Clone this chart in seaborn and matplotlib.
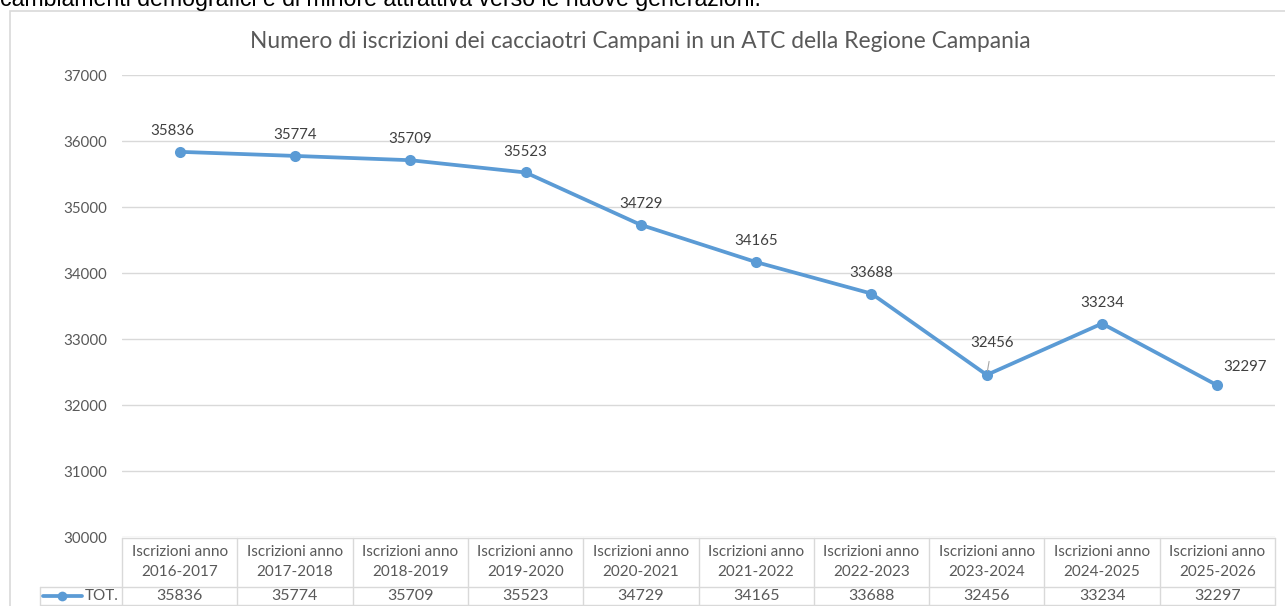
import numpy as np
import pandas as pd
import matplotlib
matplotlib.use("Agg")
import matplotlib.pyplot as plt
import seaborn as sns

# Data
anni = ["2016-2017", "2017-2018", "2018-2019", "2019-2020", "2020-2021",
        "2021-2022", "2022-2023", "2023-2024", "2024-2025", "2025-2026"]
iscritti = [35836, 35774, 35709, 35523, 34729, 34165, 33688, 32456, 33234, 32297]
y_ticks = [30000, 31000, 32000, 33000, 34000, 35000, 36000, 37000]

titolo = "Numero di iscrizioni dei cacciaotri Campani in un ATC della Regione Campania"
testo_sopra = "cambiamenti demografici e di minore attrattiva verso le nuove generazioni."

df = pd.DataFrame({"anno": anni, "tot": iscritti})

sns.set_theme(style="white")
plt.rcParams["font.family"] = ["Lato", "DejaVu Sans"]

BLUE = "#5B9BD5"
GRID = "#D9D9D9"
TXT = "#595959"
LBL = "#404040"

W, H = 1285, 606


def rect(l, t, r, b):
    return [l / W, 1 - b / H, (r - l) / W, (b - t) / H]


fig = plt.figure(figsize=(W / 100, H / 100), dpi=100)

# text of the page above the chart (cut off at the top)
fig.text(0.0, 1 - 6 / H, testo_sopra, family="Liberation Sans", fontsize=16.7,
         color="black", ha="left", va="baseline")

# chart border
fig.patches.append(plt.Rectangle((10 / W, -0.1), 1.2, 1 - 11 / H + 0.1,
                                 transform=fig.transFigure, fill=False,
                                 edgecolor=GRID, linewidth=1.2))

ax = fig.add_axes(rect(122, 75, 1275, 537))
sns.lineplot(data=df, x="anno", y="tot", marker="o", color=BLUE, linewidth=2.7,
             markersize=8, markeredgewidth=0, ax=ax, sort=False)
ax.set_xlim(-0.5, len(anni) - 0.5)
ax.set_ylim(30000, 37000)
ax.set_yticks(y_ticks)
ax.set_yticklabels([str(v) for v in y_ticks], color=TXT, fontsize=10.8)
ax.tick_params(axis="y", length=0, pad=10.5)
ax.set_xticks([])
ax.set_xlabel("")
ax.set_ylabel("")
ax.grid(axis="y", color=GRID, linewidth=1)
for s in ax.spines.values():
    s.set_visible(False)
ax.patch.set_alpha(0)

fig.text(640 / W, 1 - 42 / H, titolo, ha="center", va="center",
         fontsize=16.4, color=TXT)

# data labels (offsets in points)
offsets = [(-5, 15)] + [(0, 15)] * 6 + [(4, 23), (0, 15), (20, 13)]
for i, (v, off) in enumerate(zip(iscritti, offsets)):
    if i == 7:
        ax.annotate(str(v), xy=(i, v), xytext=off, textcoords="offset points",
                    ha="center", va="center", fontsize=10.8, color=LBL,
                    arrowprops=dict(arrowstyle="-", color="#A6A6A6", lw=0.8,
                                    shrinkA=6, shrinkB=3))
    else:
        ax.annotate(str(v), xy=(i, v), xytext=off, textcoords="offset points",
                    ha="center", va="center", fontsize=10.8, color=LBL)

# data table below the chart
tax = fig.add_axes(rect(40, 537, 1275, 606))
n = len(anni)
cw = 1153 / n
left = -0.5 - (122 - 40) / cw
tax.set_xlim(left, n - 0.5)
tax.set_ylim(0, 69)
tax.axis("off")
lkw = dict(color=GRID, linewidth=1, clip_on=False)
tax.plot([-0.5, n - 0.5], [68.5, 68.5], **lkw)
tax.plot([left, n - 0.5], [19, 19], **lkw)
tax.plot([left, n - 0.5], [1, 1], **lkw)
tax.plot([left, left], [1, 19], **lkw)
for k in range(n + 1):
    tax.plot([k - 0.5, k - 0.5], [1, 68.5], **lkw)
for i, (a, v) in enumerate(zip(anni, iscritti)):
    tax.text(i, 44, "Iscrizioni anno\n" + a, ha="center", va="center",
             fontsize=11, color=TXT, linespacing=1.5)
    tax.text(i, 10, str(v), ha="center", va="center", fontsize=11.5, color=TXT)

px = lambda p: (p - 122) / cw - 0.5
tax.plot([px(43), px(82)], [10, 10], color=BLUE, linewidth=2.7, clip_on=False)
tax.plot([px(62)], [10], "o", color=BLUE, markersize=7, markeredgewidth=0,
         clip_on=False)
tax.text(px(85), 10, "TOT.", ha="left", va="center", fontsize=11, color=TXT)

fig.savefig("out.png", dpi=100)
